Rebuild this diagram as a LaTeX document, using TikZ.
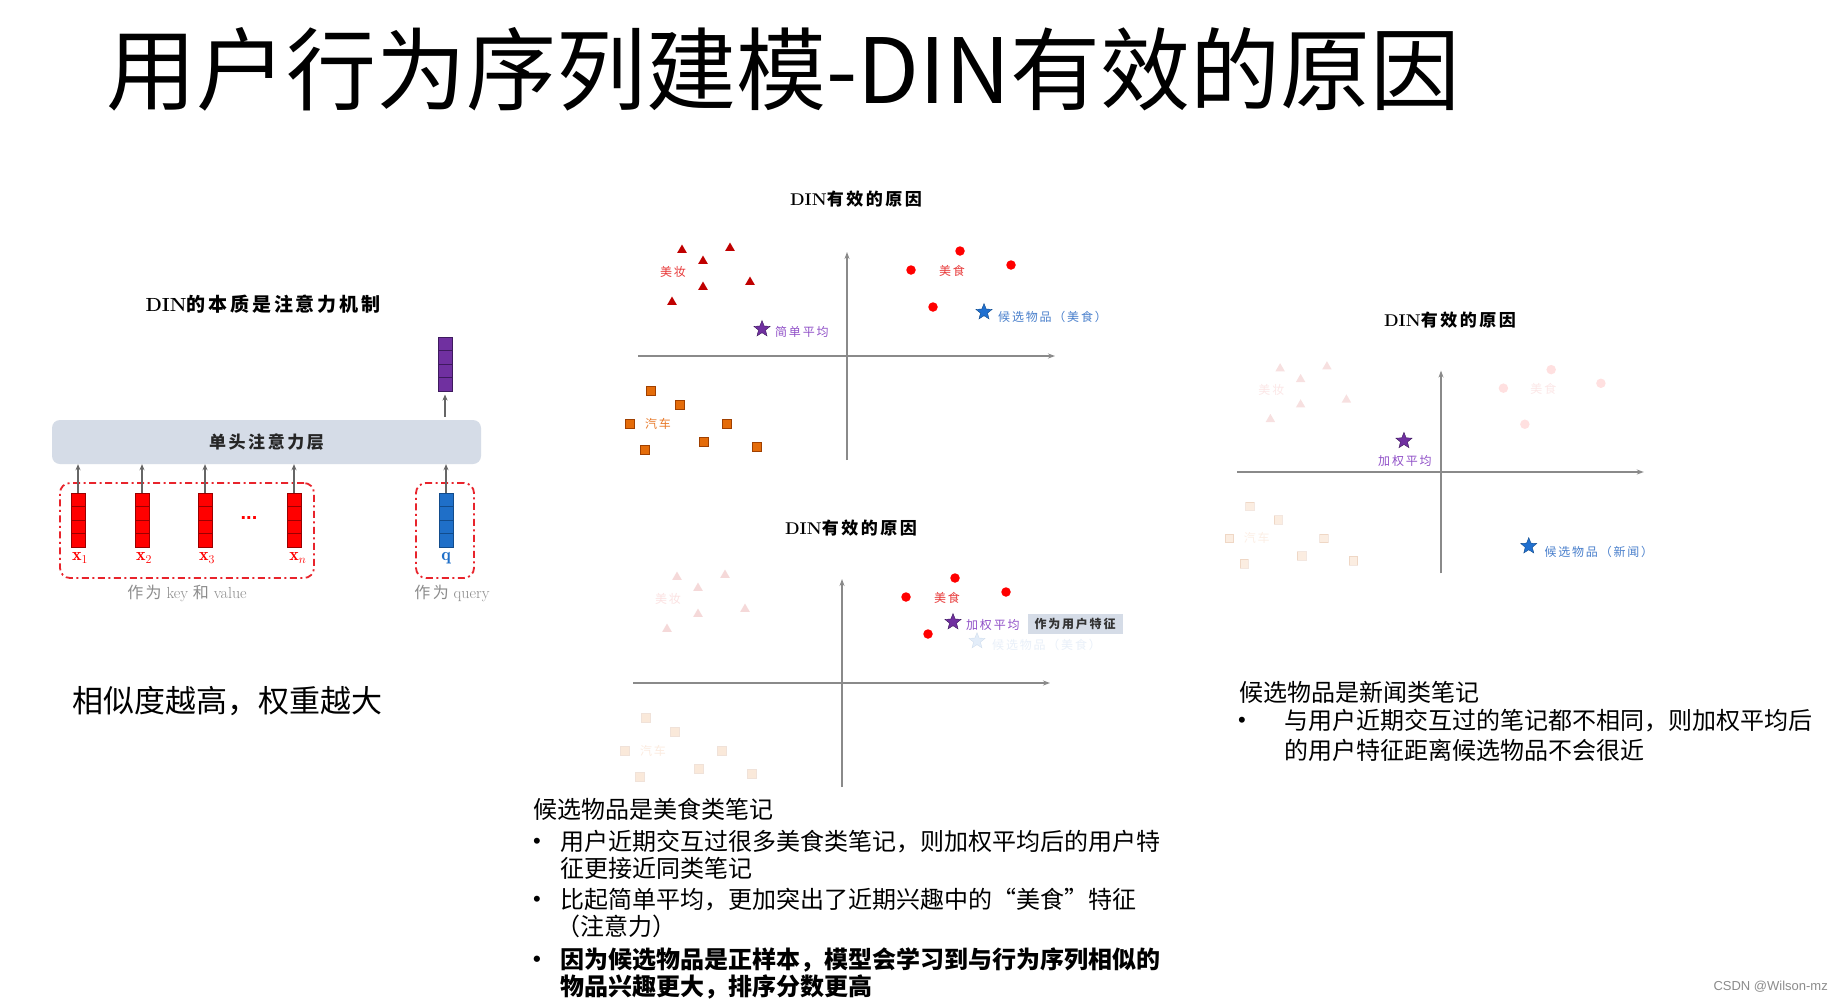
\documentclass[tikz,border=0pt]{standalone}
\usepackage{fontspec}
\newfontfamily\cjk{Noto Sans CJK SC}
\newfontfamily\cjkw[LetterSpace=15]{Noto Sans CJK SC}
\newfontfamily\wmfont{Liberation Sans}
\usetikzlibrary{shapes.geometric,arrows.meta,calc}
\newcommand\myfs[1]{\fontsize{#1}{#1}\selectfont}
\definecolor{tricol}{HTML}{C00000}
\definecolor{dotcol}{HTML}{FF0000}
\definecolor{sqcol}{HTML}{E46C0A}
\definecolor{sqdark}{HTML}{A04000}
\definecolor{pcol}{HTML}{7030A0}
\definecolor{plabc}{HTML}{9050C8}
\definecolor{bcol}{HTML}{2070D0}
\definecolor{blabc}{HTML}{4A80CC}
\definecolor{barcol}{HTML}{D5DCE7}
\definecolor{axcol}{HTML}{8A8A8A}
\definecolor{arrcol}{HTML}{666666}
\definecolor{dashred}{HTML}{E8242C}
\definecolor{graytxt}{HTML}{8C8C8C}
\definecolor{redlab}{HTML}{E83A3A}
\definecolor{orlab}{HTML}{E87A2A}
\definecolor{vred}{HTML}{FF0000}
\definecolor{vredd}{HTML}{990000}
\definecolor{vblue}{HTML}{1F6FC8}
\definecolor{vblued}{HTML}{124C8C}
\definecolor{vpur}{HTML}{7030A0}
\definecolor{vpurd}{HTML}{3E1A5E}

\newcommand\dinplot[4]{%
  \coordinate (#1W) at (-209,0);
  \coordinate (#1E) at (208,0);
  \coordinate (#1S) at (0,104);
  \coordinate (#1N) at (0,-104);
  \draw[axis] (#1W) -- (#1E);
  \draw[axis] (#1S) -- (#1N);
  \foreach \x/\y [count=\i] in {-165/-106,-117/-108,-144/-95,-144/-69,-97/-74,-175/-54}
    \node[tri, opacity=#2] (#1t\i) at (\x,\y) {};
  \node[mlab, text=redlab, opacity=#2] (#1tl) at (-174,-84) {美妆};
  \foreach \x/\y [count=\i] in {113/-105,64/-86,164/-91,86/-49}
    \node[dotm, opacity=#3] (#1c\i) at (\x,\y) {};
  \node[mlab, text=redlab, opacity=#3] (#1cl) at (105,-85) {美食};
  \foreach \x/\y [count=\i] in {-196/35,-167/49,-217/68,-120/68,-143/86,-202/94,-90/91}
    \node[sqm, opacity=#4] (#1s\i) at (\x,\y) {};
  \node[mlab, text=orlab, opacity=#4] (#1sl) at (-189,68) {汽车};
}

\begin{document}
\begin{tikzpicture}[x=1pt,y=-1pt,
  axis/.style={draw=axcol, line width=1.6pt, -{Stealth[length=7pt,width=5pt]}},
  tri/.style={regular polygon, regular polygon sides=3, fill=tricol, inner sep=0pt, minimum size=11pt},
  dotm/.style={circle, fill=dotcol, inner sep=0pt, minimum size=9.5pt},
  sqm/.style={rectangle, fill=sqcol, draw=sqdark, line width=0.6pt, inner sep=0pt, minimum size=8.5pt},
  pstar/.style={star, star points=5, star point ratio=2.3, fill=pcol, draw=vpurd, line width=0.4pt, inner sep=0pt, minimum size=17pt},
  bstar/.style={star, star points=5, star point ratio=2.3, fill=bcol, draw=vblued, line width=0.4pt, inner sep=0pt, minimum size=17pt},
  mlab/.style={font={\cjkw\myfs{12}}, inner sep=0pt},
  vec/.style 2 args={rectangle, minimum width=14pt, minimum height=54pt, inner sep=0pt, fill=#1, draw=#2, line width=1pt,
    path picture={\foreach \k in {0.25,0.5,0.75}{\draw[#2, line width=1pt] ($(path picture bounding box.north west)!\k!(path picture bounding box.south west)$) -- ($(path picture bounding box.north east)!\k!(path picture bounding box.south east)$);}}},
  garrow/.style={draw=arrcol, line width=1.5pt, -{Stealth[length=6pt,width=5pt]}},
  dbox/.style={draw=dashred, line width=1.8pt, rounded corners=10pt, dash pattern=on 7pt off 3.5pt on 2pt off 3.5pt, minimum height=95pt, inner sep=0pt},
  txt/.style={anchor=base west, inner sep=0pt, font={\cjk\myfs{24}}, text=black},
  bul/.style={anchor=base west, inner sep=0pt, font={\wmfont\myfs{22}}, text=black},
  ]
\path[use as bounding box, fill=white] (0,0) rectangle (1842,1002);

% main title
\node[anchor=base west, inner sep=0pt, font={\cjk\myfs{90}}] (title) at (106,103) {用户行为序列建模-DIN有效的原因};

% left: attention diagram
\node[inner sep=0pt] (ltitle) at (263,304) {\bfseries\myfs{19}DIN{\cjkw 的本质是注意力机制}};
\node[rectangle, rounded corners=8pt, fill=barcol, minimum width=429pt, minimum height=44pt, inner sep=0pt] (bar) at (266.5,442) {\cjkw\bfseries\myfs{17}\color{black!85}单头注意力层};

\node[vec={vred}{vredd}] (v1) at (78,520) {};
\node[vec={vred}{vredd}] (v2) at (142,520) {};
\node[vec={vred}{vredd}] (v3) at (205,520) {};
\node[vec={vred}{vredd}] (vn) at (294,520) {};
\node[vec={vblue}{vblued}] (vq) at (446,520) {};
\node[vec={vpur}{vpurd}] (vp) at (445,364) {};

\node[dbox, minimum width=254pt] (kv) at (187,530.5) {};
\node[dbox, minimum width=58pt] (qb) at (445,530.5) {};

\node[text=dotcol, inner sep=0pt] (lx1) at (80,558) {\myfs{18}$\mathbf{x}_1$};
\node[text=dotcol, inner sep=0pt] (lx2) at (144,558) {\myfs{18}$\mathbf{x}_2$};
\node[text=dotcol, inner sep=0pt] (lx3) at (207,558) {\myfs{18}$\mathbf{x}_3$};
\node[text=dotcol, inner sep=0pt] (lxn) at (298,558) {\myfs{18}$\mathbf{x}_n$};
\node[text=vblue, inner sep=0pt] (lq) at (446,558) {\myfs{18}$\mathbf{q}$};
\node[text=dotcol, inner sep=0pt, font={\wmfont\bfseries\myfs{20}}] (dots) at (249,518) {...};

\foreach \v in {v1,v2,v3,vn,vq}
  \draw[garrow] (\v.north) -- (\v.north |- bar.south);
\draw[garrow, shorten <=3pt, shorten >=3pt] (bar.north -| vp.south) -- (vp.south);

\node[text=graytxt, inner sep=0pt] (kvlab) at (187,593) {\myfs{16}{\cjkw 作为} key {\cjkw 和} value};
\node[text=graytxt, inner sep=0pt] (qlab) at (452,593) {\myfs{16}{\cjkw 作为} query};

\node[anchor=base west, inner sep=0pt, font={\cjk\myfs{31}}] (stmt) at (72,712) {相似度越高，权重越大};

% plot 1
\node[inner sep=0pt] (p1title) at (856,199) {\bfseries\myfs{17}DIN{\cjkw 有效的原因}};
\begin{scope}[shift={(847,356)}]
\dinplot{a}{1}{1}{1}
\node[pstar] (aps) at (-85,-27) {};
\node[mlab, text=plabc, anchor=west] (apl) at (-72,-24) {简单平均};
\node[bstar] (abs) at (137,-44) {};
\node[mlab, text=blabc, anchor=west] (abl) at (151,-39) {候选物品（美食）};
\end{scope}

% plot 2
\node[inner sep=0pt] (p2title) at (851,528) {\bfseries\myfs{17}DIN{\cjkw 有效的原因}};
\begin{scope}[shift={(842,683)}]
\dinplot{b}{0.15}{1}{0.15}
\node[bstar, opacity=0.12] (bbs) at (135,-42) {};
\node[mlab, text=blabc, anchor=west, opacity=0.12] (bbl) at (150,-38) {候选物品（美食）};
\node[pstar] (bps) at (111,-61) {};
\node[mlab, text=plabc, anchor=west] (bpl) at (124,-58) {加权平均};
\node[rectangle, fill=barcol, minimum width=95pt, minimum height=20pt, inner sep=0pt] (ufeat) at (233,-59) {\cjkw\bfseries\myfs{12}\color{black!80}作为用户特征};
\end{scope}

% plot 3
\node[inner sep=0pt] (p3title) at (1450,320) {\bfseries\myfs{17}DIN{\cjkw 有效的原因}};
\begin{scope}[shift={(1441,472)}, scale=0.975]
\dinplot{c}{0.12}{0.12}{0.12}
\node[pstar] (cps) at (-38,-32) {};
\node[mlab, text=plabc] (cpl) at (-37,-11) {加权平均};
\node[bstar] (cbs) at (90,76) {};
\node[mlab, text=blabc, anchor=west] (cbl) at (106,82) {候选物品（新闻）};
\end{scope}

% middle text
\node[txt] (m0) at (533,818) {候选物品是美食类笔记};
\node[bul] (mb1) at (533,848) {•};
\node[txt] (m1a) at (560,850) {用户近期交互过很多美食类笔记，则加权平均后的用户特};
\node[txt] (m1b) at (560,877) {征更接近同类笔记};
\node[bul] (mb2) at (533,906) {•};
\node[txt] (m2a) at (560,908) {比起简单平均，更加突出了近期兴趣中的“美食”特征};
\node[txt] (m2b) at (556,935) {（注意力）};
\node[bul] (mb3) at (533,966) {\bfseries •};
\node[txt] (m3a) at (560,968) {\bfseries 因为候选物品是正样本，模型会学习到与行为序列相似的};
\node[txt] (m3b) at (560,995) {\bfseries 物品兴趣更大，排序分数更高};

% right text
\node[txt] (r0) at (1239,701) {候选物品是新闻类笔记};
\node[bul] (rb) at (1238,727) {•};
\node[txt] (r1a) at (1284,729) {与用户近期交互过的笔记都不相同，则加权平均后};
\node[txt] (r1b) at (1284,759) {的用户特征距离候选物品不会很近};

% watermark
\node[anchor=east, inner sep=0pt, text=black!45, font={\wmfont\myfs{13}}] (wm) at (1828,987) {CSDN @Wilson-mz};
\end{tikzpicture}
\end{document}
